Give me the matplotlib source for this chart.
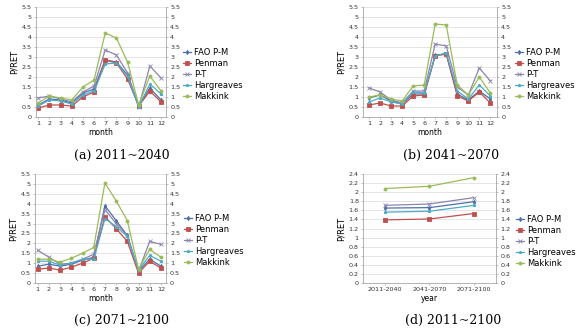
#!/usr/bin/env python3
"""P/RET ratio by month for five ET methods, three future periods + period summary"""

import matplotlib
matplotlib.use('Agg')
import matplotlib.pyplot as plt

months = list(range(1, 13))
periods = ['2011-2040', '2041-2070', '2071-2100']
methods = ['FAO P-M', 'Penman', 'P-T', 'Hargreaves', 'Makkink']

# (a) 2011~2040
a_fao = [0.6, 0.9, 0.85, 0.7, 1.2, 1.4, 2.85, 2.75, 2.1, 0.55, 1.45, 0.85]
a_pen = [0.45, 0.6, 0.6, 0.55, 1.0, 1.25, 2.85, 2.7, 1.9, 0.55, 1.3, 0.75]
a_pt = [0.95, 1.05, 0.9, 0.75, 1.25, 1.55, 3.35, 3.1, 2.2, 0.5, 2.55, 1.95]
a_har = [0.55, 0.85, 0.8, 0.65, 1.1, 1.3, 2.65, 2.7, 2.05, 0.5, 1.65, 1.15]
a_mak = [0.7, 1.05, 0.95, 0.85, 1.5, 1.85, 4.2, 3.95, 2.75, 0.6, 2.05, 1.3]

# (b) 2041~2070
b_fao = [0.95, 1.1, 0.8, 0.65, 1.15, 1.15, 3.1, 3.15, 1.15, 0.85, 1.3, 0.9]
b_pen = [0.6, 0.7, 0.55, 0.55, 1.05, 1.1, 3.05, 3.15, 1.05, 0.8, 1.25, 0.7]
b_pt = [1.45, 1.25, 0.85, 0.7, 1.3, 1.3, 3.65, 3.55, 1.5, 1.1, 2.45, 1.8]
b_har = [0.75, 0.95, 0.75, 0.65, 1.25, 1.2, 3.05, 3.2, 1.3, 0.9, 1.6, 1.05]
b_mak = [1.0, 1.1, 0.9, 0.8, 1.55, 1.6, 4.65, 4.6, 1.6, 1.1, 2.0, 1.2]

# (c) 2071~2100
c_fao = [0.85, 0.95, 0.85, 0.95, 1.15, 1.3, 3.9, 3.15, 2.4, 0.6, 1.2, 0.85]
c_pen = [0.7, 0.75, 0.65, 0.8, 1.0, 1.25, 3.35, 2.75, 2.1, 0.5, 1.1, 0.75]
c_pt = [1.65, 1.3, 0.95, 1.0, 1.2, 1.45, 3.7, 3.0, 2.4, 0.6, 2.1, 1.95]
c_har = [1.1, 1.1, 0.9, 1.0, 1.2, 1.2, 3.25, 2.85, 2.35, 0.65, 1.4, 1.1]
c_mak = [1.2, 1.2, 1.05, 1.25, 1.5, 1.8, 5.05, 4.15, 3.15, 0.7, 1.7, 1.3]

# (d) period means
d_fao = [1.65, 1.66, 1.79]
d_pen = [1.39, 1.41, 1.53]
d_pt = [1.71, 1.74, 1.88]
d_har = [1.56, 1.58, 1.71]
d_mak = [2.08, 2.13, 2.32]

COLORS = ['#4F6FA8', '#C0504D', '#8C84AC', '#4BACC6', '#9BBB59']
MARKERS = ['d', 's', 'x', '*', 'o']
GRID = '#D9D9D9'; SPINE = '#A6A6A6'

plt.rcParams['font.family'] = ['DejaVu Sans']

fig = plt.figure(figsize=(5.82, 3.29), dpi=100)


def panel(rect, x, xlabels, series, xlim, ymax, ystep, xlabel, legend_y, legend_x):
    ax = fig.add_axes(rect)
    for ys, c, m, lab in zip(series, COLORS, MARKERS, methods):
        ax.plot(x, ys, color=c, marker=m, markersize=2.2, lw=0.9, label=lab,
                markeredgewidth=0.6)
    ax.set_xlim(*xlim)
    ax.set_xticks(x)
    ax.set_xticklabels(xlabels)
    ax.set_ylim(0, ymax)
    ticks = [round(i * ystep, 2) for i in range(int(round(ymax / ystep)) + 1)]
    ax.set_yticks(ticks)
    ax.set_yticklabels([f'{t:g}' for t in ticks])
    ax.yaxis.grid(True, color=GRID, lw=0.5)
    ax.set_axisbelow(True)
    for s in ['left', 'right', 'bottom']:
        ax.spines[s].set_color(SPINE); ax.spines[s].set_linewidth(0.6)
    ax.spines['top'].set_visible(False)
    ax.tick_params(axis='both', labelsize=4.6, colors='#333333', length=1.5,
                   width=0.5, pad=1.5, color=SPINE)
    ax.tick_params(axis='y', labelright=True, right=True)
    ax.set_xlabel(xlabel, fontsize=5.5, labelpad=1)
    ax.set_ylabel('P/RET', fontsize=6, labelpad=2)
    fig.legend(*ax.get_legend_handles_labels(), loc='upper left',
               bbox_to_anchor=(legend_x, legend_y), frameon=False, fontsize=6,
               handlelength=1.0, handletextpad=0.3, labelspacing=0.25,
               borderpad=0, borderaxespad=0)
    return ax


panel([0.0619, 0.6444, 0.2234, 0.3343], months, [str(m) for m in months],
      [a_fao, a_pen, a_pt, a_har, a_mak], (0.8, 12.45), 5.5, 0.5, 'month',
      1 - 48 / 329, 183 / 582)
panel([0.6237, 0.6444, 0.2302, 0.3343], months, [str(m) for m in months],
      [b_fao, b_pen, b_pt, b_har, b_mak], (0.45, 12.6), 5.5, 0.5, 'month',
      1 - 48 / 329, 515 / 582)
panel([0.0601, 0.1398, 0.2250, 0.3313], months, [str(m) for m in months],
      [c_fao, c_pen, c_pt, c_har, c_mak], (0.75, 12.45), 5.5, 0.5, 'month',
      1 - 214 / 329, 184 / 582)
panel([0.6237, 0.1398, 0.2285, 0.3313], [0, 1, 2], periods,
      [d_fao, d_pen, d_pt, d_har, d_mak], (-0.5, 2.5), 2.4, 0.2, 'year',
      1 - 215 / 329, 516 / 582)

for cx, cy, txt in [(122, 155, '(a) 2011~2040'), (451, 155, '(b) 2041~2070'),
                    (122, 320, '(c) 2071~2100'), (453, 320, '(d) 2011~2100')]:
    fig.text(cx / 582, 1 - cy / 329, txt, ha='center', va='center',
             fontsize=9, family='DejaVu Serif')

fig.savefig('out.png', dpi=100, facecolor='white')
